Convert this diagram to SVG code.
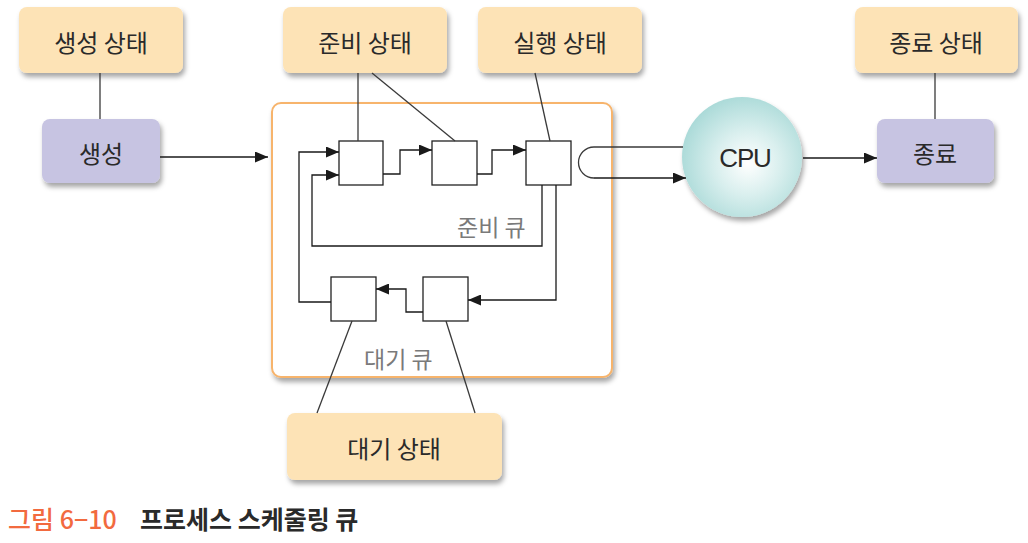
<svg xmlns="http://www.w3.org/2000/svg" width="1028" height="543" viewBox="0 0 1028 543">
  <defs>
    <filter id="shadow" x="-20%" y="-20%" width="150%" height="160%">
      <feDropShadow dx="2" dy="4" stdDeviation="2.5" flood-color="#000" flood-opacity="0.35"/>
    </filter>
    <radialGradient id="cpuFill" cx="0.55" cy="0.55" r="0.6">
      <stop offset="0" stop-color="#ffffff"/>
      <stop offset="0.45" stop-color="#d9efee"/>
      <stop offset="1" stop-color="#a6d8d6"/>
    </radialGradient>
    <marker id="arrow" viewBox="0 0 13 11" refX="13" refY="5.5" markerWidth="13" markerHeight="11" markerUnits="userSpaceOnUse" orient="auto">
      <path d="M0,0 L13,5.5 L0,11 Z" fill="#1a1a1a"/>
    </marker>
  </defs>
  <style>
    .state { fill: #fde3b6; filter: url(#shadow); }
    .proc { fill: #c7c4e2; filter: url(#shadow); }
    .label { font-family: "Noto Sans CJK KR", "Noto Sans", sans-serif; font-size: 24px; fill: #2a2a2a; text-anchor: middle; dominant-baseline: central; }
    .qlabel { font-family: "Noto Sans CJK KR", "Noto Sans", sans-serif; font-size: 23px; fill: #7a7a7a; }
    .slot { fill: #ffffff; stroke: #222; stroke-width: 1.3; }
    .link { fill: none; stroke: #3a3a3a; stroke-width: 1.3; }
    .flow { fill: none; stroke: #1a1a1a; stroke-width: 1.3; marker-end: url(#arrow); }
    .cap { font-family: "Noto Sans CJK KR", "Noto Sans", sans-serif; font-size: 25px; }
  </style>

  <rect width="1028" height="543" fill="#ffffff"/>

  <!-- queue container -->
  <g id="queue-panel">
    <rect x="272" y="103" width="340" height="274" rx="9" fill="#ffffff" stroke="#f7b46c" stroke-width="2" filter="url(#shadow)"/>
    <text class="qlabel" x="457" y="236">준비 큐</text>
    <text class="qlabel" x="364" y="368">대기 큐</text>
  </g>

  <!-- state labels -->
  <g id="state-created">
    <rect class="state" x="19" y="7" width="164" height="66" rx="8"/>
    <text class="label" x="101" y="41">생성 상태</text>
  </g>
  <g id="state-ready">
    <rect class="state" x="283" y="7" width="164" height="66" rx="8"/>
    <text class="label" x="365" y="41">준비 상태</text>
  </g>
  <g id="state-running">
    <rect class="state" x="478" y="7" width="164" height="66" rx="8"/>
    <text class="label" x="560" y="41">실행 상태</text>
  </g>
  <g id="state-terminated">
    <rect class="state" x="855" y="7" width="163" height="66" rx="8"/>
    <text class="label" x="936" y="41">종료 상태</text>
  </g>
  <g id="state-waiting">
    <rect class="state" x="287" y="413" width="215" height="67" rx="8"/>
    <text class="label" x="394" y="447">대기 상태</text>
  </g>

  <!-- process nodes -->
  <g id="node-create">
    <rect class="proc" x="42" y="119" width="118" height="64" rx="8"/>
    <text class="label" x="101" y="152">생성</text>
  </g>
  <g id="node-exit">
    <rect class="proc" x="877" y="119" width="117" height="64" rx="8"/>
    <text class="label" x="935" y="152">종료</text>
  </g>
  <g id="node-cpu">
    <circle cx="742" cy="157" r="60" fill="url(#cpuFill)" filter="url(#shadow)"/>
    <text x="745" y="158" font-family="Liberation Sans, Arial, sans-serif" font-size="26" fill="#2a2a2a" text-anchor="middle" dominant-baseline="central" letter-spacing="-1.2">CPU</text>
  </g>

  <!-- queue slots -->
  <g id="ready-1"><rect class="slot" x="339" y="141" width="44" height="44"/></g>
  <g id="ready-2"><rect class="slot" x="432" y="141" width="45" height="44"/></g>
  <g id="ready-3"><rect class="slot" x="526" y="141" width="45" height="44"/></g>
  <g id="wait-1"><rect class="slot" x="331" y="277" width="45" height="44"/></g>
  <g id="wait-2"><rect class="slot" x="423" y="277" width="45" height="44"/></g>

  <!-- connectors -->
  <g id="connectors">
    <!-- state annotations -->
    <line class="link" x1="100" y1="73" x2="100" y2="119"/>
    <line class="link" x1="935" y1="73" x2="935" y2="119"/>
    <line class="link" x1="358" y1="73" x2="358" y2="141"/>
    <line class="link" x1="372" y1="73" x2="455" y2="141"/>
    <line class="link" x1="535" y1="73" x2="550" y2="141"/>
    <line class="link" x1="352" y1="321" x2="317" y2="413"/>
    <line class="link" x1="446" y1="321" x2="475" y2="413"/>

    <!-- process flow -->
    <path class="flow" d="M160,157 H268"/>
    <path class="flow" d="M383,174 H400 V150 H432"/>
    <path class="flow" d="M477,174 H492 V150 H526"/>
    <path class="flow" d="M542,185 V246 H312 V175 H339"/>
    <path class="flow" d="M556,185 V300 H468"/>
    <path class="flow" d="M423,312 H406 V289 H376"/>
    <path class="flow" d="M331,302 H299 V152 H339"/>
    <path class="link" d="M683,147 H594 A15.5,15.5 0 0 0 594,178"/>
    <path class="flow" d="M594,178 H686"/>
    <path class="flow" d="M803,158 H877"/>
  </g>

  <!-- caption -->
  <g id="caption">
    <text class="cap" x="8" y="529" fill="#f26a3f" font-weight="500">그림 6−10</text>
    <text class="cap" x="140" y="529" font-weight="bold" fill="#2a2a2a">프로세스 스케줄링 큐</text>
  </g>
</svg>
